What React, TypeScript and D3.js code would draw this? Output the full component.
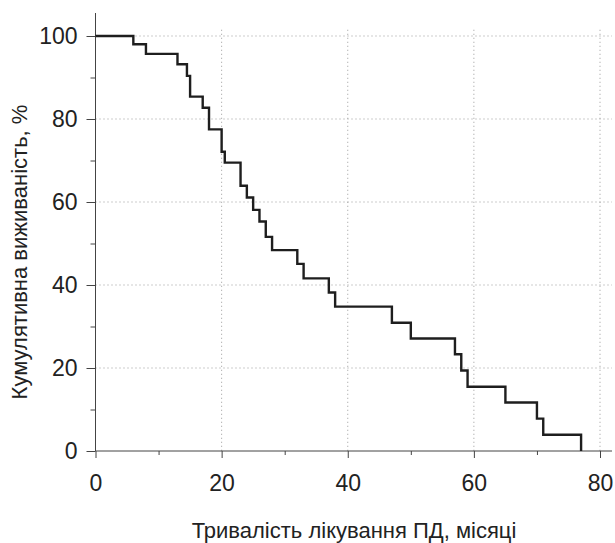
import React, { useRef, useEffect } from 'react';
import * as d3 from 'd3';

// Kaplan-Meier: момент події (місяці) та кумулятивна виживаність (%)
const months = [0, 6, 8, 13, 14.5, 15, 17, 18, 20, 20.5, 23, 24, 25, 26, 27, 28, 32, 33, 37, 38, 47, 50, 57, 58, 59, 65, 70, 71, 77];
const survival = [100, 98, 95.7, 93.2, 90.4, 85.4, 82.7, 77.5, 72.1, 69.5, 63.9, 61.1, 58.1, 55.3, 51.6, 48.4, 45.1, 41.6, 38.2, 34.8, 30.9, 27.1, 23.3, 19.4, 15.5, 11.7, 7.8, 3.9, 0];

const xTicks = [0, 20, 40, 60, 80];
const xMinor = [10, 30, 50, 70];
const yTicks = [0, 20, 40, 60, 80, 100];
const yMinor = [10, 30, 50, 70, 90];
const xGrid = [20, 40, 60, 80];
const yGrid = [20, 40, 60, 80, 100];

const xTitle = 'Тривалість лікування ПД, місяці';
const yTitle = 'Кумулятивна виживаність, %';

export default function App() {
  const svgRef = useRef<SVGSVGElement>(null);

  useEffect(() => {
    if (!svgRef.current) return;
    const svg = d3.select(svgRef.current);
    svg.selectAll('*').remove();

    const font = '"Liberation Sans", Arial, sans-serif';
    const x = d3.scaleLinear().domain([0, 80]).range([95.5, 600]);
    const y = d3.scaleLinear().domain([0, 100]).range([451, 36]);
    const xEnd = 612;
    const yTop = 13;

    // сітка
    const grid = svg.append('g').attr('stroke', '#9a9a9a').attr('stroke-width', 1).attr('stroke-dasharray', '1,3');
    yGrid.forEach(v => {
      grid.append('line').attr('x1', x(0)).attr('x2', xEnd).attr('y1', y(v)).attr('y2', y(v));
    });
    xGrid.forEach(v => {
      grid.append('line').attr('x1', x(v)).attr('x2', x(v)).attr('y1', y(101.5)).attr('y2', y(0));
    });

    // осі
    const yAxis = d3.axisLeft(y).tickValues(yTicks).tickSize(9).tickPadding(9).tickFormat(d3.format('d'));
    const yG = svg.append('g').attr('transform', `translate(${x(0)},0)`).call(yAxis);
    yG.select('.domain').remove();
    const yMinorG = svg.append('g').attr('transform', `translate(${x(0)},0)`)
      .call(d3.axisLeft(y).tickValues(yMinor).tickSize(5).tickFormat(() => ''));
    yMinorG.select('.domain').remove();

    const xAxis = d3.axisBottom(x).tickValues(xTicks).tickSize(7).tickPadding(17).tickFormat(d3.format('d'));
    const xG = svg.append('g').attr('transform', `translate(0,${y(0)})`).call(xAxis);
    xG.select('.domain').remove();
    const xMinorG = svg.append('g').attr('transform', `translate(0,${y(0)})`)
      .call(d3.axisBottom(x).tickValues(xMinor).tickSize(4).tickFormat(() => ''));
    xMinorG.select('.domain').remove();

    [yG, yMinorG, xG, xMinorG].forEach(g => {
      g.selectAll('line').attr('stroke', '#444');
      g.selectAll('text').attr('font-family', font).attr('font-size', 23).attr('fill', '#222');
    });

    svg.append('line').attr('x1', x(0)).attr('x2', x(0)).attr('y1', yTop).attr('y2', y(0))
      .attr('stroke', '#444').attr('stroke-width', 1);
    svg.append('line').attr('x1', x(0)).attr('x2', xEnd).attr('y1', y(0)).attr('y2', y(0))
      .attr('stroke', '#444').attr('stroke-width', 1);

    // крива
    const pts = months.map((m, i) => [m, survival[i]] as [number, number]);
    const line = d3.line<[number, number]>().x(d => x(d[0])).y(d => y(d[1])).curve(d3.curveStepAfter);
    svg.append('path').datum(pts).attr('d', line).attr('fill', 'none')
      .attr('stroke', '#1e1e1e').attr('stroke-width', 2.4);

    // підписи осей
    svg.append('text').attr('x', 354).attr('y', 538).attr('text-anchor', 'middle')
      .attr('font-family', font).attr('font-size', 22).attr('fill', '#222').text(xTitle);
    svg.append('text').attr('transform', 'translate(27,252) rotate(-90)').attr('text-anchor', 'middle')
      .attr('font-family', font).attr('font-size', 22).attr('fill', '#222').text(yTitle);
  }, []);

  return (
    <svg ref={svgRef} width={615} height={543}
      style={{ position: 'absolute', left: 0, top: 0, background: '#fff' }} />
  );
}
